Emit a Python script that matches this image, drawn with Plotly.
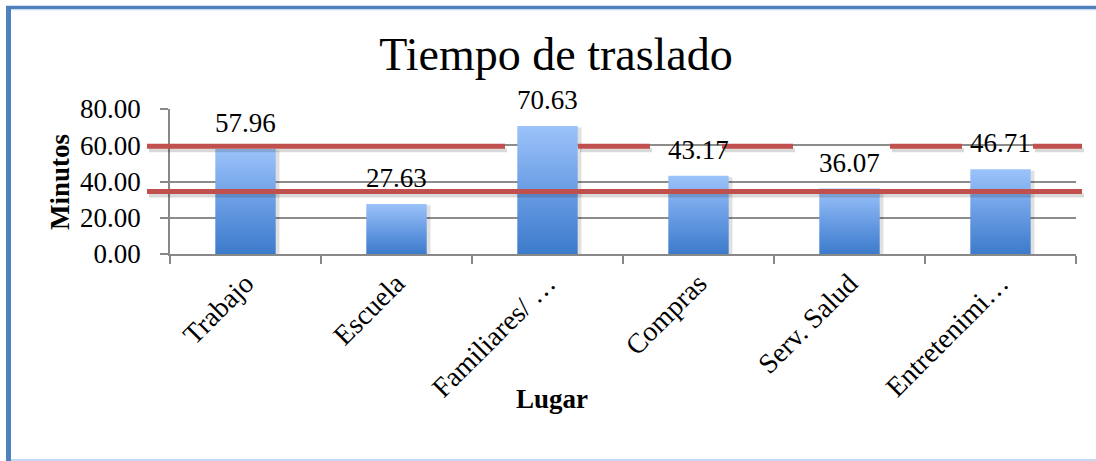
import plotly.graph_objs as go

# datos
lugares = ['Trabajo', 'Escuela', 'Familiares/ …', 'Compras', 'Serv. Salud', 'Entretenimi…']
minutos = [57.96, 27.63, 70.63, 43.17, 36.07, 46.71]
y_ticks = [0, 20, 40, 60, 80]
# lineas rojas de referencia (dibujadas a mano sobre el grafico)
umbrales = [59.5, 34.5]

FONT = 'Liberation Serif'
W, H = 1096, 461
ML, MR, MT, MB = 170, 20, 109, 207
PW = W - ML - MR
PH = H - MT - MB


def px_x(px):
    '''pasa pixeles horizontales a coordenadas paper'''
    return (px - ML) / PW


def px_y(py):
    '''pasa pixeles verticales a coordenadas paper'''
    return (H - MB - py) / PH


fig = go.Figure()

# barra invisible para el eje de categorias
fig.add_trace(go.Bar(x=lugares, y=minutos, marker=dict(color='rgba(0,0,0,0)', line_width=0),
                     hoverinfo='x+y', showlegend=False))

# barras con degradado: un poligono por barra en un eje numerico superpuesto
half = 0.2
for i, v in enumerate(minutos):
    # sombra
    fig.add_trace(go.Scatter(
        x=[i - half + 0.02, i - half + 0.02, i + half + 0.025, i + half + 0.025, i - half + 0.02],
        y=[-0.8, v - 0.8, v - 0.8, -0.8, -0.8],
        xaxis='x2', mode='lines', line_width=0, fill='toself',
        fillcolor='rgba(0,0,0,0.12)', hoverinfo='skip', showlegend=False))
    fig.add_trace(go.Scatter(
        x=[i - half, i - half, i + half, i + half, i - half],
        y=[0, v, v, 0, 0],
        xaxis='x2', mode='lines', line_width=0, fill='toself',
        fillgradient=dict(type='vertical',
                          colorscale=[[0, '#3C7BCB'], [0.5, '#6A9DE4'], [1, '#9CC3FA']]),
        hoverinfo='skip', showlegend=False))

# etiquetas de datos
for lugar, v in zip(lugares, minutos):
    fig.add_annotation(x=lugar, y=v, text=f'{v:.2f}', showarrow=False,
                       yanchor='bottom', yshift=9,
                       font=dict(family=FONT, size=27, color='black'))

# lineas rojas (segmentos en pixeles)
segmentos = [
    [(147, 505), (578, 650), (722, 793), (890, 962), (1033, 1082)],
    [(147, 1082)],
]
for u, segs in zip(umbrales, segmentos):
    for a, b in segs:
        # sombra
        fig.add_shape(type='line', xref='paper', yref='y', x0=px_x(a + 2), x1=px_x(b + 2),
                      ysizemode='pixel', yanchor=u, y0=-4, y1=-4,
                      line=dict(color='rgba(0,0,0,0.15)', width=4))
        fig.add_shape(type='line', xref='paper', yref='y', x0=px_x(a), x1=px_x(b),
                      ysizemode='pixel', yanchor=u, y0=0, y1=0,
                      line=dict(color='#C0504D', width=5))

# marco del grafico
fig.add_shape(type='line', xref='paper', yref='paper', x0=px_x(8.5), x1=px_x(8.5),
              y0=px_y(6), y1=px_y(461), line=dict(color='#4F81BD', width=5))
fig.add_shape(type='line', xref='paper', yref='paper', x0=px_x(6), x1=px_x(1096),
              y0=px_y(7.5), y1=px_y(7.5), line=dict(color='#4F81BD', width=3.5))
fig.add_shape(type='line', xref='paper', yref='paper', x0=px_x(11), x1=px_x(1096),
              y0=px_y(9.8), y1=px_y(9.8), line=dict(color='#C6D9F1', width=1))
fig.add_shape(type='line', xref='paper', yref='paper', x0=px_x(11), x1=px_x(1096),
              y0=px_y(460), y1=px_y(460), line=dict(color='#C6D9F1', width=2))

# titulos de ejes
fig.add_annotation(xref='paper', yref='paper', x=px_x(60), y=px_y(182), text='<b>Minutos</b>',
                   textangle=-90, showarrow=False, xanchor='center', yanchor='middle',
                   font=dict(family=FONT, size=27, color='black'))
fig.add_annotation(xref='paper', yref='paper', x=px_x(552), y=px_y(399), text='<b>Lugar</b>',
                   showarrow=False, xanchor='center', yanchor='middle',
                   font=dict(family=FONT, size=27, color='black'))

fig.update_layout(
    width=W, height=H,
    margin=dict(l=ML, r=MR, t=MT, b=MB, autoexpand=False),
    paper_bgcolor='white', plot_bgcolor='white',
    title=dict(text='Tiempo de traslado', x=556 / W, y=1 - 54 / H, xanchor='center',
               yanchor='middle', font=dict(family=FONT, size=46, color='black')),
    font=dict(family=FONT, size=26, color='black'),
    showlegend=False,
    xaxis=dict(type='category', tickson='boundaries', ticks='outside', ticklen=8,
               tickcolor='#888888', tickwidth=1.5, tickangle=-45, automargin=False,
               showline=True, linecolor='#888888', linewidth=1.5,
               showgrid=False, tickfont=dict(family=FONT, size=28, color='black')),
    xaxis2=dict(overlaying='x', range=[-0.5, 5.5], visible=False),
    yaxis=dict(range=[0, 80], tickvals=y_ticks, tickformat='.2f', automargin=False,
               ticks='outside', ticklen=8, tickcolor='#888888', tickwidth=1.5,
               showline=True, linecolor='#888888', linewidth=1.5,
               showgrid=True, gridcolor='#8C8C8C', gridwidth=1.5,
               zeroline=False, ticklabelstandoff=14,
               tickfont=dict(family=FONT, size=27, color='black')),
)

# quitar margen y barras de desplazamiento del body para que el grafico quede en (0, 0)
fig.write_html('out.html', config={'displayModeBar': False},
               post_script="document.body.style.margin='0';"
                           "document.body.style.overflow='hidden';"
                           "document.documentElement.style.overflow='hidden';")
